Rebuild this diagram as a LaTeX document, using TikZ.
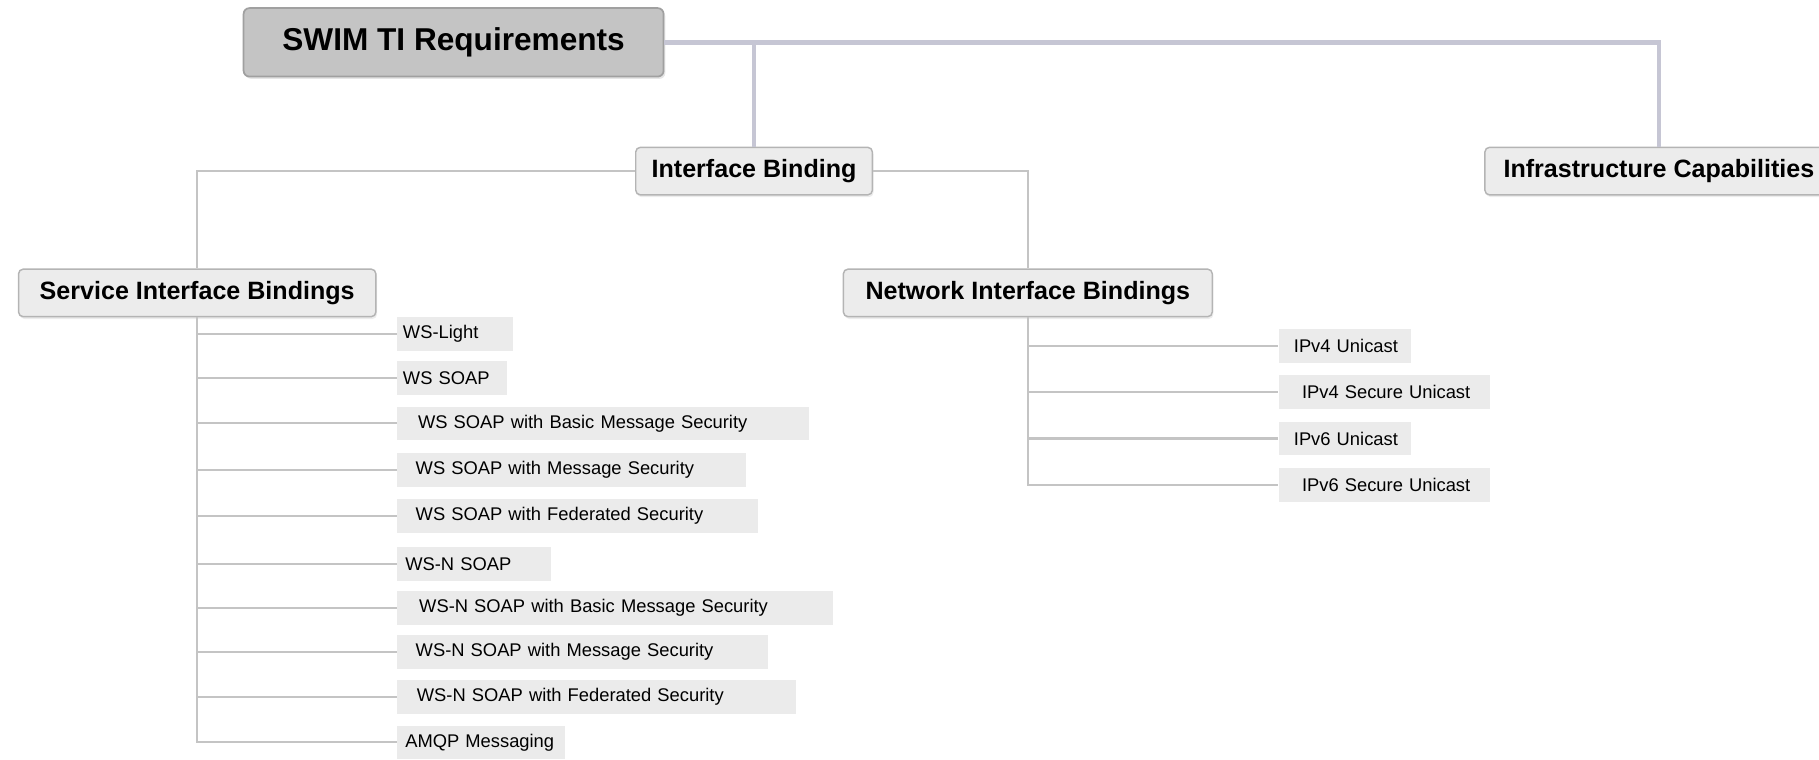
\documentclass[tikz,border=0pt]{standalone}
\usepackage{fontspec}
\setmainfont{Liberation Sans}
\usepackage{xcolor}
\usetikzlibrary{shadows}

\definecolor{rootgray}{HTML}{C4C4C4}
\definecolor{rootline}{HTML}{A0A0A0}
\definecolor{boxgray}{HTML}{ECECEC}
\definecolor{boxline}{HTML}{B4B4B4}
\definecolor{leafgray}{HTML}{EBEBEB}
\definecolor{trunkcol}{HTML}{C6C6D4}
\definecolor{branchcol}{HTML}{C4C4C4}

\begin{document}
\begin{tikzpicture}[
    x=0.2mm, y=-0.2mm,
    root/.style={draw=rootline, fill=rootgray, rounded corners=1mm, line width=0.3mm,
        minimum width=72.4mm, minimum height=11.8mm, font=\fontsize{15.5}{18}\selectfont\bfseries,
        drop shadow={opacity=0.2, shadow xshift=0.3mm, shadow yshift=-0.4mm}},
    topic/.style={draw=boxline, fill=boxgray, rounded corners=0.8mm, line width=0.25mm,
        minimum height=8.2mm, font=\fontsize{12.3}{14}\selectfont\bfseries,
        drop shadow={opacity=0.15, shadow xshift=0.2mm, shadow yshift=-0.4mm}},
    leaf/.style={anchor=west, fill=leafgray, inner sep=0pt, minimum height=5.8mm,
        align=left, font=\fontsize{9}{10}\selectfont},
    trunk/.style={draw=trunkcol, line width=0.75mm},
    branch/.style={draw=branchcol, line width=0.35mm}
]
\useasboundingbox (0,0) rectangle (1568,655);

\node[root] (swim) at (391,36.5) {SWIM TI Requirements};
\node[topic, minimum width=40.8mm] (ib) at (650,147.5) {Interface Binding};
\node[topic, minimum width=60mm] (infra) at (1430,147.5) {Infrastructure Capabilities};
\node[topic, minimum width=61.6mm] (sib) at (170,252.5) {Service Interface Bindings};
\node[topic, minimum width=63.6mm] (nib) at (886,252.5) {Network Interface Bindings};

\node[leaf, text width=20mm] (wslight) at (342,288) {\hspace*{1mm}WS-Light};
\node[leaf, text width=19mm] (wssoap) at (342,326) {\hspace*{1mm}WS SOAP};
\node[leaf, text width=71mm] (wsbasic) at (342,365) {\hspace*{3.6mm}WS SOAP with Basic Message Security};
\node[leaf, text width=60.2mm] (wsmsg) at (342,405) {\hspace*{3.2mm}WS SOAP with Message Security};
\node[leaf, text width=62.2mm] (wsfed) at (342,445) {\hspace*{3.2mm}WS SOAP with Federated Security};
\node[leaf, text width=26.6mm] (wnsoap) at (342,486) {\hspace*{1.4mm}WS-N SOAP};
\node[leaf, text width=75.2mm] (wnbasic) at (342,524) {\hspace*{3.8mm}WS-N SOAP with Basic Message Security};
\node[leaf, text width=64mm] (wnmsg) at (342,562) {\hspace*{3.2mm}WS-N SOAP with Message Security};
\node[leaf, text width=68.8mm] (wnfed) at (342,601) {\hspace*{3.4mm}WS-N SOAP with Federated Security};
\node[leaf, text width=29mm] (amqp) at (342,640) {\hspace*{1.4mm}AMQP Messaging};

\node[leaf, text width=22.8mm] (v4uni) at (1102,298) {\hspace*{2.6mm}IPv4 Unicast};
\node[leaf, text width=36.4mm] (v4sec) at (1102,338) {\hspace*{4mm}IPv4 Secure Unicast};
\node[leaf, text width=22.8mm] (v6uni) at (1102,378) {\hspace*{2.6mm}IPv6 Unicast};
\node[leaf, text width=36.4mm] (v6sec) at (1102,418) {\hspace*{4mm}IPv6 Secure Unicast};

\draw[trunk] (swim.east) -| (infra.north);
\draw[trunk] (ib.north) -- (ib.north |- swim.east);
\draw[branch] (ib.west) -| (sib.north);
\draw[branch] (ib.east) -| (nib.north);

\foreach \n in {wslight,wssoap,wsbasic,wsmsg,wsfed,wnsoap,wnbasic,wnmsg,wnfed,amqp}
    \draw[branch] (sib.south) |- (\n.west);
\foreach \n in {v4uni,v4sec,v6uni,v6sec}
    \draw[branch] (nib.south) |- (\n.west);
\end{tikzpicture}
\end{document}
